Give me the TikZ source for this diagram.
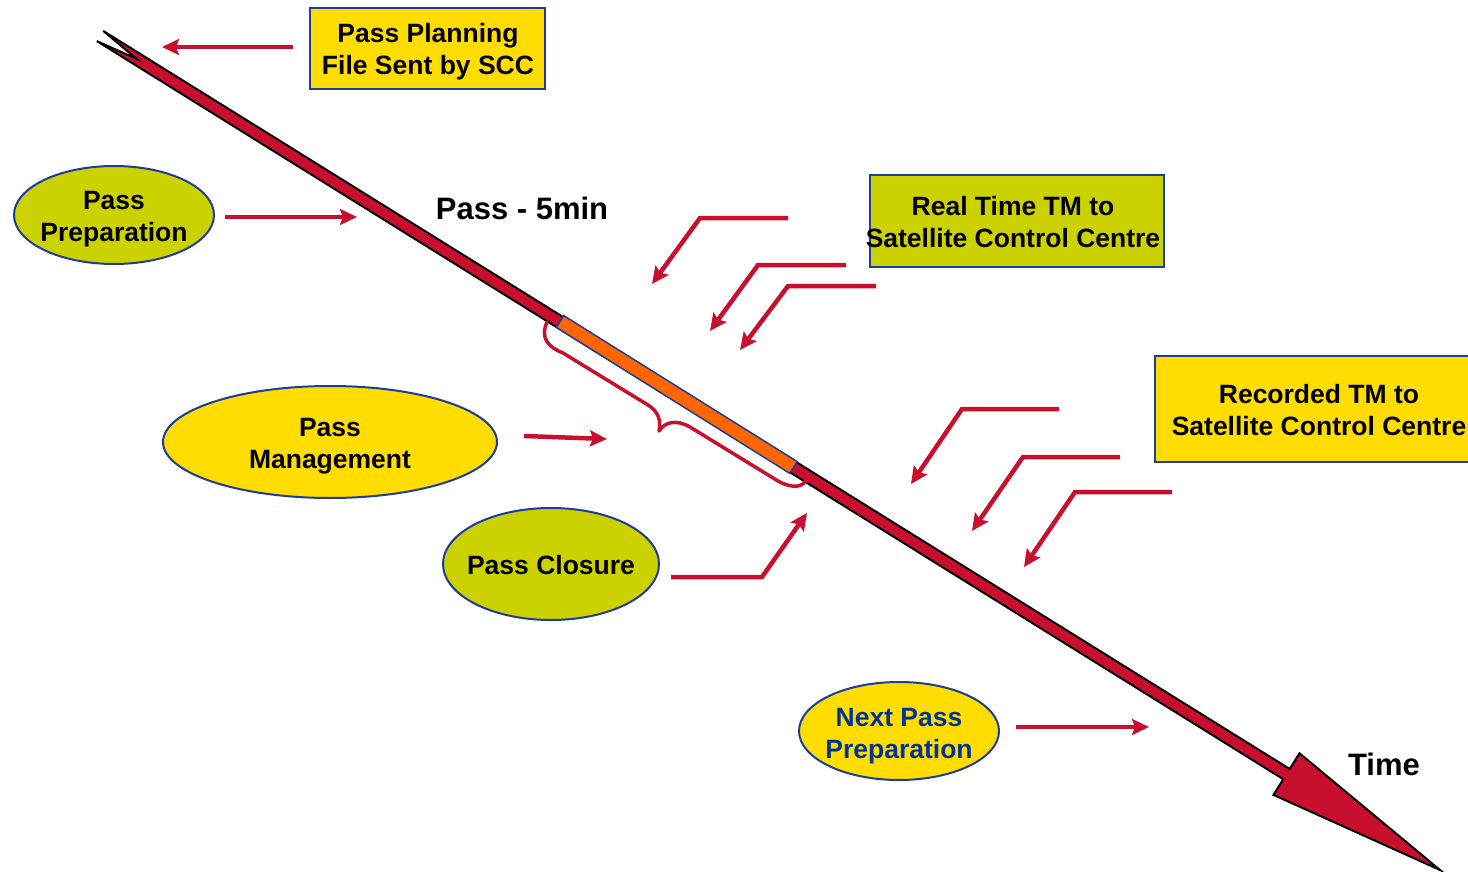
\documentclass[tikz,border=0pt]{standalone}
\usepackage{fontspec}
\setmainfont{Liberation Sans}
\usetikzlibrary{shapes.geometric,arrows.meta}
\definecolor{cyel}{RGB}{255,221,0}
\definecolor{cgrn}{RGB}{204,210,0}
\definecolor{cblu}{RGB}{30,60,155}
\definecolor{cred}{RGB}{200,16,46}
\definecolor{corg}{RGB}{255,102,0}
\definecolor{ctxt}{RGB}{0,51,153}
\tikzset{
  lbl/.style={font=\fontsize{26.5}{32}\selectfont\bfseries, align=center, inner sep=0pt},
  boxy/.style={draw=cblu, line width=2pt, rectangle, inner sep=0pt},
  ell/.style={draw=cblu, line width=2pt, ellipse, inner sep=0pt},
  redarrow/.style={draw=cred, line width=4.5pt, -{Stealth[length=17pt,width=16pt,inset=3pt]}},
}
\begin{document}
\begin{tikzpicture}[x=1pt,y=-1pt]
\useasboundingbox (0,0) rectangle (1468,872);

% main time arrow
\fill[cred, draw=black, line width=2pt, line join=miter]
  (103.2,30.9) -- (1289.7,769.0) -- (1299.5,753.3) -- (1440,870)
  -- (1273.5,794.9) -- (1283.3,779.2) -- (96.8,41.1) -- (136.5,58.8) -- cycle;
% orange segment
\fill[corg, draw=cblu, line width=1.5pt]
  (563.7,315.6) -- (797.2,461.6) -- (789.8,473.4) -- (556.3,327.4) -- cycle;
% brace
\draw[cred, line width=3.5pt, line cap=round, line join=round]
  (547,322) .. controls (540,338) and (548,347) .. (563,353) -- (648,405)
  .. controls (659,412) and (661,421) .. (659,431)
  .. controls (665,422) and (676,419) .. (690,427) -- (778,481)
  .. controls (792,489) and (805,488) .. (807,477);

% boxes
\node[boxy, fill=cyel, minimum width=235, minimum height=81] (plan) at (427.5,48.5) {};
\node[lbl] (plantxt) at (428,52) {Pass Planning\\File Sent by SCC};
\node[boxy, fill=cgrn, minimum width=294, minimum height=92] (rt) at (1017,221) {};
\node[lbl] (rttxt) at (1013,222) {Real Time TM to\\Satellite Control Centre};
\node[boxy, fill=cyel, minimum width=330, minimum height=106] (rec) at (1320,409) {};
\node[lbl] (rectxt) at (1319,410) {Recorded TM to\\Satellite Control Centre};

% ellipses
\node[ell, fill=cgrn, minimum width=200, minimum height=98] (prep) at (114,215) {};
\node[lbl] (preptxt) at (114,219) {Pass\\Preparation};
\node[ell, fill=cyel, minimum width=334, minimum height=112] (mgmt) at (330,442) {};
\node[lbl] (mgmttxt) at (330,446) {Pass\\Management};
\node[ell, fill=cgrn, minimum width=216, minimum height=112] (clos) at (551,564) {};
\node[lbl] (clostxt) at (551,565) {Pass Closure};
\node[ell, fill=cyel, minimum width=200, minimum height=98] (next) at (899,731) {};
\node[lbl, text=ctxt] (nexttxt) at (899,736) {Next Pass\\Preparation};

% plain labels
\node[lbl, font=\fontsize{31}{36}\selectfont\bfseries] (five) at (522,208) {Pass - 5min};
\node[lbl, font=\fontsize{31}{36}\selectfont\bfseries] (time) at (1384,764) {Time};

% arrow end points
\coordinate (planA) at (293,47);  \coordinate (planB) at (162,47);
\coordinate (prepA) at (225,217); \coordinate (prepB) at (357,217);
\coordinate (mgmtA) at (524,436); \coordinate (mgmtB) at (607,439);
\coordinate (closA) at (671,577); \coordinate (closK) at (762,577); \coordinate (closB) at (807,513);
\coordinate (nextA) at (1016,727); \coordinate (nextB) at (1149,727);

\coordinate (rt1A) at (788,218); \coordinate (rt1K) at (700,218); \coordinate (rt1B) at (652,284);
\coordinate (rt2A) at (846,265); \coordinate (rt2K) at (758,265); \coordinate (rt2B) at (710,331);
\coordinate (rt3A) at (876,286); \coordinate (rt3K) at (788,286); \coordinate (rt3B) at (740,350);

\coordinate (rc1A) at (1059,409); \coordinate (rc1K) at (962,409); \coordinate (rc1B) at (911,484);
\coordinate (rc2A) at (1120,457); \coordinate (rc2K) at (1023,457); \coordinate (rc2B) at (972,531);
\coordinate (rc3A) at (1172,492); \coordinate (rc3K) at (1075,492); \coordinate (rc3B) at (1024,567);

% arrows
\draw[redarrow] (planA) -- (planB);
\draw[redarrow] (prepA) -- (prepB);
\draw[redarrow] (mgmtA) -- (mgmtB);
\draw[redarrow] (closA) -- (closK) -- (closB);
\draw[redarrow] (nextA) -- (nextB);
\draw[redarrow] (rt1A) -- (rt1K) -- (rt1B);
\draw[redarrow] (rt2A) -- (rt2K) -- (rt2B);
\draw[redarrow] (rt3A) -- (rt3K) -- (rt3B);
\draw[redarrow] (rc1A) -- (rc1K) -- (rc1B);
\draw[redarrow] (rc2A) -- (rc2K) -- (rc2B);
\draw[redarrow] (rc3A) -- (rc3K) -- (rc3B);
\end{tikzpicture}
\end{document}
